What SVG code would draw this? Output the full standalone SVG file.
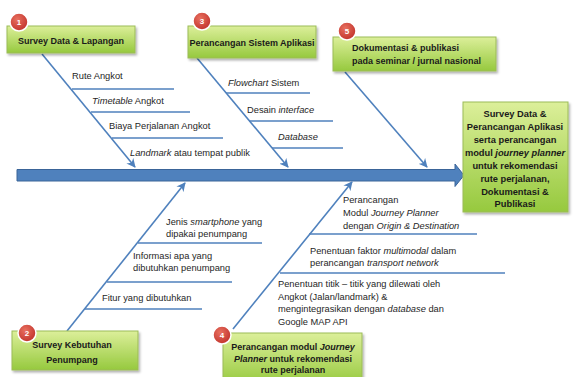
<svg xmlns="http://www.w3.org/2000/svg" width="574" height="377" viewBox="0 0 574 377">
<defs>
<linearGradient id="g" x1="0" y1="0" x2="0" y2="1">
<stop offset="0" stop-color="#dcef9a"/>
<stop offset="1" stop-color="#96c93e"/>
</linearGradient>
<radialGradient id="r" cx="0.4" cy="0.35" r="0.7">
<stop offset="0" stop-color="#e8705f"/>
<stop offset="1" stop-color="#c0302a"/>
</radialGradient>
<filter id="sh" x="-10%" y="-10%" width="130%" height="140%">
<feDropShadow dx="1.5" dy="2" stdDeviation="1.2" flood-color="#000" flood-opacity="0.3"/>
</filter>
<marker id="ah" viewBox="0 0 10 10" refX="9" refY="5" markerWidth="9" markerHeight="9" orient="auto" markerUnits="userSpaceOnUse">
<path d="M0,0 L10,5 L0,10 L3,5 Z" fill="#4f81bd"/>
</marker>
</defs>
<style>
.box{fill:url(#g);stroke:#9cbb58;stroke-width:1;filter:url(#sh)}
.c{fill:url(#r);stroke:#fff;stroke-width:1.5}
.n{font-family:"Liberation Sans",Arial,sans-serif;font-size:8px;font-weight:bold;fill:#fff;text-anchor:middle}
.bt{font-family:"Liberation Sans",Arial,sans-serif;font-size:9px;font-weight:bold;fill:#1a1a1a}
.rt{font-family:"Liberation Sans",Arial,sans-serif;font-size:9.3px;font-weight:bold;fill:#1a1a1a;text-anchor:middle}
.t{font-family:"Liberation Sans",Arial,sans-serif;font-size:9.3px;fill:#262626}
.mid{text-anchor:middle}
.dg{stroke:#4f81bd;stroke-width:1.6;fill:none;marker-end:url(#ah)}
.sl{stroke:#4f81bd;stroke-width:1.6;fill:none}
</style>

<g id="connectors">
<path d="M17,169.5 H455 V164 L464,175.3 L455,186.5 V181 H17 Z" fill="#4f81bd" stroke="#3a6498" stroke-width="1"/>
<line class="dg" x1="42" y1="54" x2="135" y2="167"/>
<line class="dg" x1="197" y1="58" x2="288" y2="167"/>
<line class="dg" x1="345" y1="72" x2="427" y2="167"/>
<line class="dg" x1="67" y1="331" x2="185" y2="183"/>
<line class="dg" x1="233" y1="329" x2="352" y2="182"/>
<line class="sl" x1="72" y1="89" x2="174" y2="89"/>
<line class="sl" x1="91" y1="112" x2="190" y2="112"/>
<line class="sl" x1="112" y1="138" x2="223" y2="138"/>
<line class="sl" x1="226" y1="93" x2="310" y2="93"/>
<line class="sl" x1="249" y1="121" x2="333" y2="121"/>
<line class="sl" x1="272" y1="148" x2="343" y2="148"/>
<line class="sl" x1="138" y1="243" x2="262" y2="243"/>
<line class="sl" x1="107" y1="282" x2="232" y2="282"/>
<line class="sl" x1="85" y1="309" x2="202" y2="309"/>
<line class="sl" x1="309" y1="234" x2="477" y2="234"/>
<line class="sl" x1="280" y1="273" x2="505" y2="273"/>
</g>

<g id="labels">
<text class="t" x="72" y="78.5">Rute Angkot</text>
<text class="t" x="92" y="103.5"><tspan font-style="italic">Timetable</tspan> Angkot</text>
<text class="t" x="109" y="128.5">Biaya Perjalanan Angkot</text>
<text class="t" x="130" y="156"><tspan font-style="italic">Landmark</tspan> atau tempat publik</text>
<text class="t" x="228" y="86"><tspan font-style="italic">Flowchart</tspan> Sistem</text>
<text class="t" x="247" y="112.5">Desain <tspan font-style="italic">interface</tspan></text>
<text class="t" x="278" y="139.5" font-style="italic">Database</text>
<text class="t" x="166" y="224.5">Jenis <tspan font-style="italic">smartphone</tspan> yang</text>
<text class="t" x="166" y="236.5">dipakai penumpang</text>
<text class="t" x="133" y="258.5">Informasi apa yang</text>
<text class="t" x="133" y="270.5">dibutuhkan penumpang</text>
<text class="t" x="102" y="300.5">Fitur yang dibutuhkan</text>
<text class="t" x="343" y="202.5">Perancangan</text>
<text class="t" x="343" y="215.5">Modul <tspan font-style="italic">Journey Planner</tspan></text>
<text class="t" x="343" y="228.5">dengan <tspan font-style="italic">Origin &amp; Destination</tspan></text>
<text class="t" x="310" y="253.5">Penentuan faktor <tspan font-style="italic">multimodal</tspan> dalam</text>
<text class="t" x="310" y="265.5">perancangan <tspan font-style="italic">transport network</tspan></text>
<text class="t" x="278" y="286.5">Penentuan titik – titik yang dilewati oleh</text>
<text class="t" x="278" y="299.5">Angkot (Jalan/landmark) &amp;</text>
<text class="t" x="278" y="311.5">mengintegrasikan dengan <tspan font-style="italic">database</tspan> dan</text>
<text class="t" x="278" y="324.5">Google MAP API</text>
</g>

<g id="node1">
<rect class="box" x="7" y="26" width="128" height="27"/>
<text class="bt mid" x="71" y="44">Survey Data &amp; Lapangan</text>
<circle class="c" cx="19" cy="22" r="9"/>
<text class="n" x="19" y="25">1</text>
</g>

<g id="node3">
<rect class="box" x="188" y="26" width="128" height="32"/>
<text class="bt mid" x="252" y="46">Perancangan Sistem Aplikasi</text>
<circle class="c" cx="202" cy="21" r="9"/>
<text class="n" x="202" y="24">3</text>
</g>

<g id="node5">
<rect class="box" x="333" y="37" width="163" height="34"/>
<text class="bt" x="352" y="51">Dokumentasi &amp; publikasi</text>
<text class="bt" x="352" y="64">pada seminar / jurnal nasional</text>
<circle class="c" cx="347" cy="31" r="9"/>
<text class="n" x="347" y="34">5</text>
</g>

<g id="node2">
<rect class="box" x="12" y="331" width="126" height="39"/>
<text class="bt mid" x="72" y="348">Survey Kebutuhan</text>
<text class="bt mid" x="72" y="363">Penumpang</text>
<circle class="c" cx="27" cy="333" r="9"/>
<text class="n" x="27" y="336">2</text>
</g>

<g id="node4">
<rect class="box" x="223" y="333" width="139" height="52"/>
<text class="bt mid" x="293" y="350">Perancangan modul <tspan font-style="italic">Journey</tspan></text>
<text class="bt mid" x="293" y="361.5"><tspan font-style="italic">Planner</tspan> untuk rekomendasi</text>
<text class="bt mid" x="293" y="373">rute perjalanan</text>
<circle class="c" cx="222" cy="335" r="9"/>
<text class="n" x="222" y="338">4</text>
</g>

<g id="result">
<rect class="box" x="463" y="102" width="105" height="110"/>
<text class="rt" x="515" y="116.5">Survey Data &amp;</text>
<text class="rt" x="515" y="129.5">Perancangan Aplikasi</text>
<text class="rt" x="515" y="142.5">serta perancangan</text>
<text class="rt" x="515" y="155.5">modul <tspan font-style="italic">journey planner</tspan></text>
<text class="rt" x="515" y="168.5">untuk rekomendasi</text>
<text class="rt" x="515" y="181.5">rute perjalanan,</text>
<text class="rt" x="515" y="194.5">Dokumentasi &amp;</text>
<text class="rt" x="515" y="206.5">Publikasi</text>
</g>
</svg>
